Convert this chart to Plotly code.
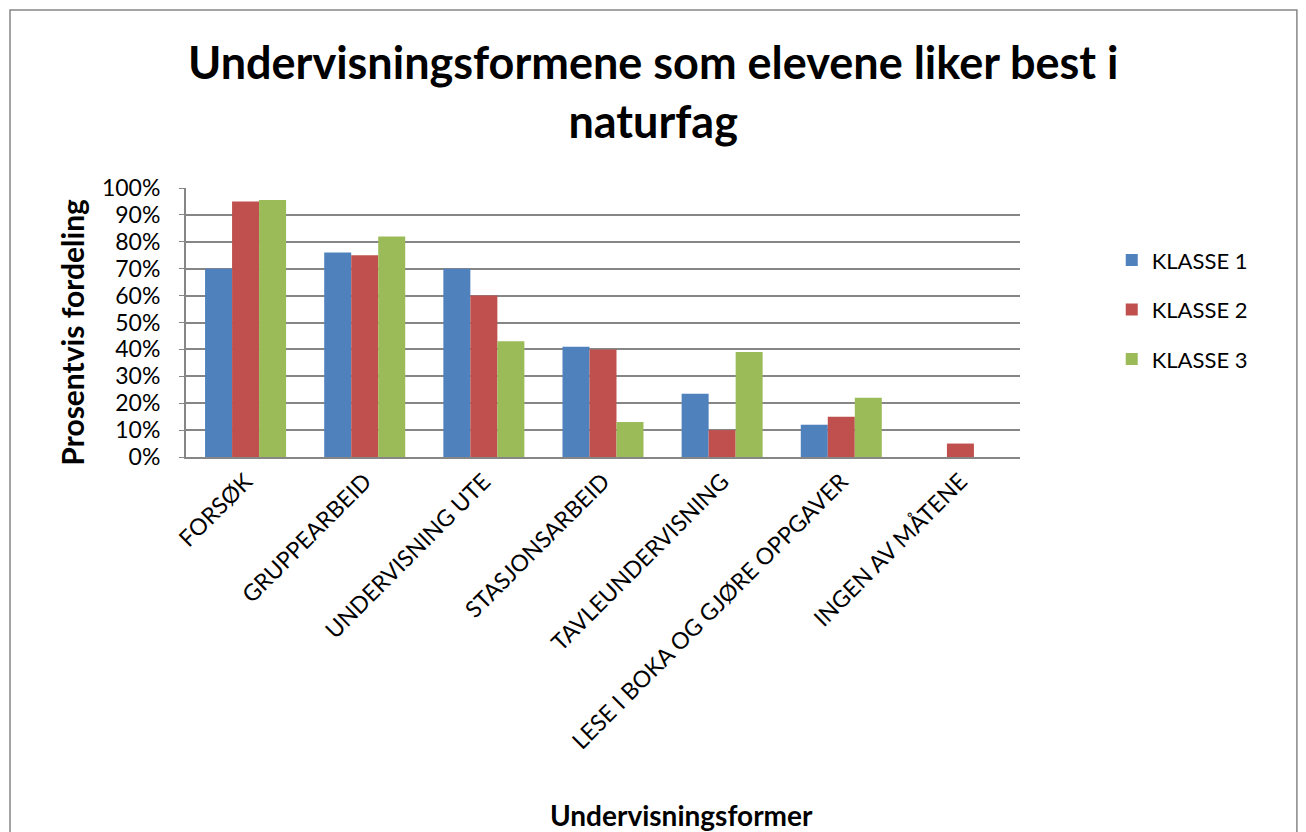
import plotly.graph_objects as go

categories = ["FORSØK", "GRUPPEARBEID", "UNDERVISNING UTE", "STASJONSARBEID",
              "TAVLEUNDERVISNING", "LESE I BOKA OG GJØRE OPPGAVER", "INGEN AV MÅTENE"]
klasse1 = [0.70, 0.76, 0.70, 0.41, 0.235, 0.12, 0.0]
klasse2 = [0.95, 0.75, 0.60, 0.40, 0.10, 0.15, 0.05]
klasse3 = [0.955, 0.82, 0.43, 0.13, 0.39, 0.22, 0.0]
series_names = ["KLASSE 1", "KLASSE 2", "KLASSE 3"]
y_ticks = [i / 10 for i in range(11)]

colors = ["#4F81BD", "#C0504D", "#9BBB59"]
FONT = "Lato, 'Open Sans', sans-serif"
GRID = "#868686"

fig = go.Figure()
for name, vals, col in zip(series_names, [klasse1, klasse2, klasse3], colors):
    fig.add_trace(go.Bar(
        x=categories, y=vals, name=name, legendgroup=name,
        marker=dict(color=col, line=dict(width=0)),
    ))

# page body has an 8px margin, so the figure is sized to the visible area
fig.update_layout(
    width=1298, height=824,
    paper_bgcolor="white", plot_bgcolor="white",
    font=dict(family=FONT, color="black"),
    barmode="group", bargap=0.32, bargroupgap=0,
    margin=dict(l=178, r=286, t=180, b=375, autoexpand=False),
    legend=dict(
        x=1.11, y=0.81, xanchor="left", yanchor="top",
        font=dict(size=22), tracegroupgap=18, itemwidth=30,
        bgcolor="rgba(0,0,0,0)",
    ),
    xaxis=dict(
        tickangle=-45, tickfont=dict(size=23), automargin=False,
        showline=True, linecolor=GRID, linewidth=2,
        ticks="", showgrid=False,
    ),
    yaxis=dict(
        range=[0, 1.0], tickvals=y_ticks, tickformat=".0%",
        tickfont=dict(size=23), automargin=False,
        showgrid=True, gridcolor=GRID, gridwidth=2,
        showline=True, linecolor=GRID, linewidth=2,
        ticks="outside", ticklen=5, tickcolor=GRID,
        ticklabelstandoff=14, zeroline=False,
    ),
    shapes=[dict(type="rect", xref="paper", yref="paper",
                 x0=-0.211, x1=1.332, y0=-1.6, y1=1.662,
                 line=dict(color=GRID, width=1.5), layer="below")],
)

# titles as annotations so they stay where the reference has them
fig.add_annotation(
    text="<b>Undervisningsformene som elevene liker best i<br>naturfag</b>",
    xref="paper", yref="paper", x=0.56, y=1.36,
    xanchor="center", yanchor="middle", showarrow=False,
    font=dict(size=45, family=FONT, color="black"),
)
fig.add_annotation(
    text="<b>Undervisningsformer</b>",
    xref="paper", yref="paper", x=0.594, y=-1.331,
    xanchor="center", yanchor="middle", showarrow=False,
    font=dict(size=28, family=FONT, color="black"),
)
fig.add_annotation(
    text="<b>Prosentvis fordeling</b>",
    xref="paper", yref="paper", x=-0.137, y=0.465, textangle=-90,
    xanchor="center", yanchor="middle", showarrow=False,
    font=dict(size=30, family=FONT, color="black"),
)

fig.write_html("out.html")
